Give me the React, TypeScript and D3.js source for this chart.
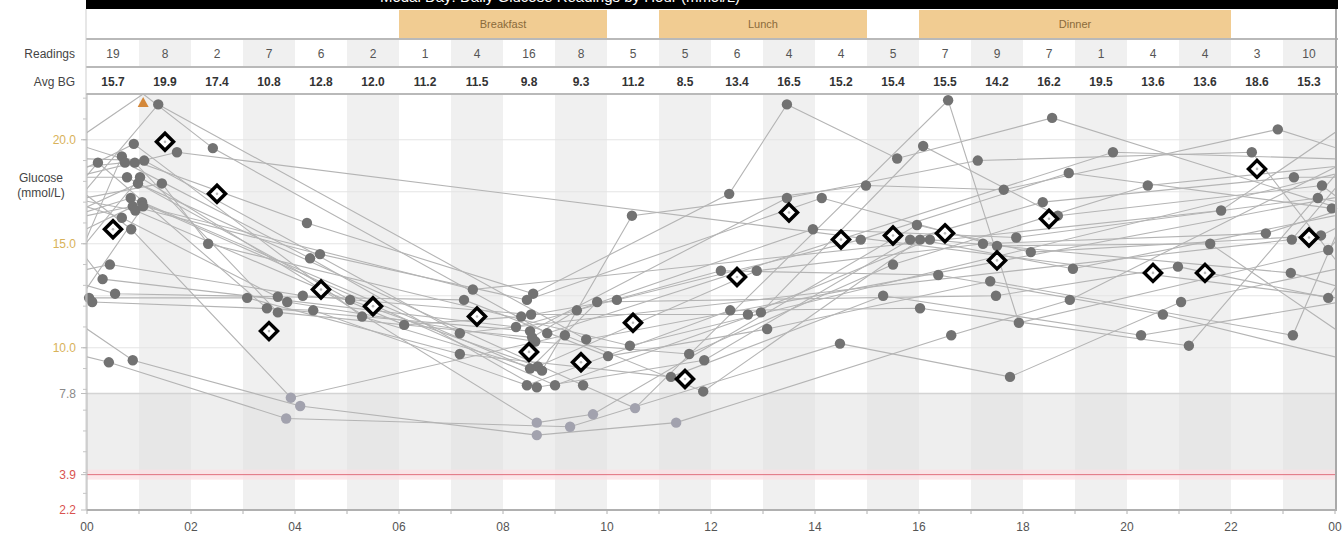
import React from "react";
import * as d3 from "d3";

const W = 1344;
const H = 535;

const readingCounts = [19, 8, 2, 7, 6, 2, 1, 4, 16, 8, 5, 5, 6, 4, 4, 5, 7, 9, 7, 1, 4, 4, 3, 10];
const avgBG = [15.7, 19.9, 17.4, 10.8, 12.8, 12.0, 11.2, 11.5, 9.8, 9.3, 11.2, 8.5, 13.4, 16.5, 15.2, 15.4, 15.5, 14.2, 16.2, 19.5, 13.6, 13.6, 18.6, 15.3];
const xTickLabels = ["00", "02", "04", "06", "08", "10", "12", "14", "16", "18", "20", "22", "00"];
const yMajorTicks = [20.0, 15.0, 10.0, 7.8, 3.9, 2.2];
const meals = [
  { name: "Breakfast", start: 6, end: 10 },
  { name: "Lunch", start: 11, end: 15 },
  { name: "Dinner", start: 16, end: 22 },
];
const targetLow = 7.8;
const hypoLine = 3.9;
const yMin = 2.2;
const yMax = 22.2;

// Each day: list of [hour of day, glucose mmol/L]
const days: [number, number][][] = [
  [[0.04, 12.4], [3.08, 12.4], [7.17, 9.7], [11.23, 8.6], [15.31, 12.5], [20.27, 10.6]],
  [[0.1, 12.2], [4.35, 11.8], [8.46, 8.2], [12.37, 11.8], [16.02, 11.9], [21.19, 10.1]],
  [[0.21, 18.9], [3.46, 11.9], [8.52, 10.8], [13.46, 17.2], [17.13, 19.0], [22.4, 19.4]],
  [[0.3, 13.3], [8.25, 11.0], [12.19, 13.7], [16.37, 13.5], [20.69, 11.6]],
  [[0.42, 9.3], [3.83, 6.6], [9.29, 6.2], [14.48, 10.2], [17.75, 8.6], [21.04, 12.2]],
  [[0.44, 14.0], [4.15, 12.5], [8.54, 11.6], [12.71, 11.6], [16.21, 15.2], [23.15, 13.6]],
  [[0.54, 12.6], [3.67, 12.45], [7.25, 12.3], [10.02, 9.6], [13.08, 10.9], [17.37, 13.2], [23.19, 10.6]],
  [[0.67, 19.2], [4.23, 16.0], [8.58, 12.6], [12.35, 17.4], [13.46, 21.7], [15.58, 19.1], [18.56, 21.05]],
  [[0.67, 16.25], [3.85, 12.2], [8.62, 10.3], [11.58, 9.7], [15.5, 14.0], [20.4, 17.8]],
  [[0.73, 18.9], [4.29, 14.3], [8.65, 8.1], [11.87, 9.4], [15.83, 15.2], [18.38, 17.0], [23.21, 18.2]],
  [[0.77, 18.2], [5.06, 12.3], [8.67, 9.1], [12.88, 13.7], [17.23, 15.0], [22.67, 15.5]],
  [[0.84, 17.2], [9.0, 8.2], [12.96, 11.7], [16.08, 19.7], [18.67, 16.35], [23.75, 17.8]],
  [[0.85, 15.7], [3.92, 7.6], [9.19, 10.6], [11.85, 7.9], [16.02, 15.2], [18.96, 13.8]],
  [[0.88, 16.8], [4.48, 14.5], [8.46, 12.3], [14.13, 17.2], [17.5, 14.9], [21.6, 15.0]],
  [[0.88, 9.4], [4.1, 7.2], [8.65, 5.8], [11.33, 6.4], [16.62, 10.6], [18.9, 12.3]],
  [[0.9, 19.8], [5.29, 11.5], [8.75, 8.9], [10.48, 16.35], [14.98, 17.8], [17.63, 17.6], [22.9, 20.5]],
  [[0.92, 18.9], [3.67, 11.7], [8.56, 10.5], [9.42, 11.8], [13.96, 15.7], [17.87, 15.3], [23.67, 17.2]],
  [[0.93, 16.6], [6.1, 11.1], [8.35, 11.5], [10.19, 12.3], [14.88, 15.2], [18.88, 18.4], [23.94, 16.7]],
  [[0.98, 17.9], [9.54, 8.2], [10.54, 7.1], [16.56, 21.9], [17.92, 11.2], [23.87, 14.7]],
  [[1.02, 18.2], [8.65, 6.4], [9.73, 6.8], [15.96, 15.9], [18.15, 14.6], [23.73, 15.4]],
  [[1.06, 17.0], [8.52, 9.0], [9.81, 12.2], [17.48, 12.5], [20.98, 13.9], [23.87, 12.4]],
  [[1.08, 16.8], [7.42, 12.8], [21.81, 16.6]],
  [[1.08, 29.2], [2.42, 19.6], [8.85, 10.7], [19.73, 19.4]],
  [[1.1, 19.0], [7.17, 10.7], [23.17, 15.2]],
  [[1.37, 21.7], [9.6, 10.4]],
  [[1.44, 17.9], [2.33, 15.0], [10.44, 10.1]],
  [[1.73, 19.4]],
];

const FONT = "'Liberation Sans', Arial, sans-serif";

export default function App() {
  const x = d3.scaleLinear().domain([0, 24]).range([87, 1335]);
  const y = d3.scaleLinear().domain([yMin, yMax]).range([510, 94]);
  const yc = (v: number) => y(Math.min(v, yMax));
  const hours = d3.range(24);
  const plotTop = y(yMax);
  const plotBottom = y(yMin);

  const line = d3
    .line<[number, number]>()
    .x((d) => x(d[0]))
    .y((d) => yc(d[1]));

  const paths = days.map((day, i) => {
    const prev = days[(i - 1 + days.length) % days.length];
    const next = days[(i + 1) % days.length];
    const pl = prev[prev.length - 1];
    const nf = next[0];
    const ext: [number, number][] = [[pl[0] - 24, pl[1]], ...day, [nf[0] + 24, nf[1]]];
    return line(ext) || "";
  });

  const allPoints = days.flat();
  const minorTicks = d3.range(3, 23, 1);

  const tickColor = (v: number) => (v >= 10 ? "#d8b25a" : v === targetLow ? "#8a8a8a" : "#d9534f");

  const diamond = (cx: number, cy: number, r: number) =>
    `M${cx},${cy - r}L${cx + r},${cy}L${cx},${cy + r}L${cx - r},${cy}Z`;

  return (
    <div style={{ position: "absolute", left: 0, top: 0 }}>
      <svg width={W} height={H} style={{ display: "block", fontFamily: FONT }}>
        <defs>
          <clipPath id="plotClip">
            <rect x={x(0)} y={plotTop} width={x(24) - x(0)} height={plotBottom - plotTop} />
          </clipPath>
        </defs>
        <rect x={0} y={0} width={W} height={H} fill="#ffffff" />

        {/* title bar (title mostly cut off at the top, as in the source) */}
        <rect x={86} y={0} width={1252} height={9} fill="#000" />
        <text x={560} y={1.5} fill="#fff" fontSize={15} textAnchor="middle">
          Modal Day: Daily Glucose Readings by Hour (mmol/L)
        </text>

        {/* meal row */}
        {meals.map((m) => (
          <g key={m.name}>
            <rect x={x(m.start)} y={10} width={x(m.end) - x(m.start)} height={28} fill="#f1cc92" />
            <text
              x={(x(m.start) + x(m.end)) / 2}
              y={28}
              fontSize={11}
              fill="#8a6a3a"
              textAnchor="middle"
            >
              {m.name}
            </text>
          </g>
        ))}

        {/* readings row shading */}
        {hours
          .filter((h) => h % 2 === 1)
          .map((h) => (
            <rect key={"rs" + h} x={x(h)} y={40} width={x(h + 1) - x(h)} height={27} fill="#f0f0f0" />
          ))}

        {/* plot background bands */}
        {hours.map((h) => (
          <g key={"band" + h}>
            <rect
              x={x(h)}
              y={plotTop}
              width={x(h + 1) - x(h)}
              height={plotBottom - plotTop}
              fill={h % 2 === 1 ? "#f0f0f0" : "#ffffff"}
            />
            <rect
              x={x(h)}
              y={y(targetLow)}
              width={x(h + 1) - x(h)}
              height={y(hypoLine) - y(targetLow)}
              fill={h % 2 === 1 ? "#e7e7e7" : "#eeeeee"}
            />
          </g>
        ))}

        {/* horizontal grid */}
        {[20, 17.5, 15, 12.5, 10].map((v) => (
          <line key={"g" + v} x1={x(0)} x2={x(24)} y1={y(v)} y2={y(v)} stroke="#e4e4e4" strokeWidth={1} />
        ))}
        <line x1={x(0)} x2={x(24)} y1={y(targetLow)} y2={y(targetLow)} stroke="#d4d4d4" strokeWidth={1.5} />
        <rect x={x(0)} y={y(hypoLine) - 5} width={x(24) - x(0)} height={10} fill="#fbe1e5" opacity={0.8} />
        <line x1={x(0)} x2={x(24)} y1={y(hypoLine)} y2={y(hypoLine)} stroke="#e0707e" strokeWidth={1} />

        {/* table separators */}
        <line x1={86} x2={1338} y1={39} y2={39} stroke="#b9b9b9" strokeWidth={2} />
        <line x1={86} x2={1338} y1={67} y2={67} stroke="#b9b9b9" strokeWidth={2} />
        <line x1={86} x2={1338} y1={plotTop} y2={plotTop} stroke="#b9b9b9" strokeWidth={2} />

        {/* row labels */}
        <text x={75} y={58} fontSize={12} fill="#444" textAnchor="end">
          Readings
        </text>
        <text x={75} y={86} fontSize={12} fill="#444" textAnchor="end">
          Avg BG
        </text>
        {hours.map((h) => (
          <g key={"row" + h}>
            <text x={x(h + 0.5)} y={58} fontSize={12} fill="#555" textAnchor="middle">
              {readingCounts[h]}
            </text>
            <text x={x(h + 0.5)} y={86} fontSize={12} fill="#333" fontWeight="bold" textAnchor="middle">
              {avgBG[h].toFixed(1)}
            </text>
          </g>
        ))}

        {/* day lines */}
        <g clipPath="url(#plotClip)">
          {paths.map((p, i) => (
            <path key={"l" + i} d={p} fill="none" stroke="#b4b4b4" strokeWidth={1.1} />
          ))}
        </g>

        {/* points */}
        {allPoints.map((d, i) =>
          d[1] > yMax ? (
            <path
              key={"p" + i}
              d={`M${x(d[0])},${plotTop + 3}L${x(d[0]) + 5.5},${plotTop + 13}L${x(d[0]) - 5.5},${plotTop + 13}Z`}
              fill="#d4883a"
            />
          ) : (
            <circle
              key={"p" + i}
              cx={x(d[0])}
              cy={y(d[1])}
              r={5.2}
              fill={d[1] < targetLow ? "#a2a2ae" : "#727272"}
            />
          )
        )}

        {/* hourly averages */}
        {hours
          .filter((h) => readingCounts[h] > 1)
          .map((h) => (
            <g key={"d" + h}>
              <path d={diamond(x(h + 0.5), y(avgBG[h]), 8.5)} fill="#fff" stroke="#000" strokeWidth={3.5} />
              <circle cx={x(h + 0.5)} cy={y(avgBG[h])} r={1.3} fill="#bbb" />
            </g>
          ))}

        {/* borders */}
        <line x1={86} x2={86} y1={9} y2={plotBottom} stroke="#cfcfcf" strokeWidth={1} />
        <line x1={1336} x2={1336} y1={9} y2={plotBottom} stroke="#a9a9a9" strokeWidth={2} />

        {/* y axis */}
        <line x1={x(0)} x2={x(0)} y1={plotTop} y2={plotBottom} stroke="#b5b5b5" strokeWidth={1} />
        {minorTicks.map((v) => (
          <line key={"mt" + v} x1={x(0) - 4} x2={x(0)} y1={y(v)} y2={y(v)} stroke="#c5c5c5" strokeWidth={1} />
        ))}
        {yMajorTicks.map((v) => (
          <g key={"yt" + v}>
            <line x1={x(0) - 6} x2={x(0)} y1={y(v)} y2={y(v)} stroke="#bdbdbd" strokeWidth={1} />
            <text x={76} y={y(v) + 4} fontSize={12} fill={tickColor(v)} textAnchor="end">
              {v.toFixed(1)}
            </text>
          </g>
        ))}
        <text x={41} y={182} fontSize={12} fill="#444" textAnchor="middle">
          Glucose
        </text>
        <text x={41} y={197} fontSize={12} fill="#444" textAnchor="middle">
          (mmol/L)
        </text>

        {/* x axis */}
        <line x1={x(0)} x2={x(24) + 2} y1={plotBottom} y2={plotBottom} stroke="#b0b0b0" strokeWidth={2} />
        {d3.range(25).map((h) => (
          <line key={"xt" + h} x1={x(h)} x2={x(h)} y1={plotBottom} y2={plotBottom + 4} stroke="#b0b0b0" strokeWidth={1} />
        ))}
        {xTickLabels.map((lab, i) => (
          <text key={"xl" + i} x={x(i * 2)} y={531} fontSize={12} fill="#555" textAnchor="middle">
            {lab}
          </text>
        ))}
      </svg>
    </div>
  );
}
